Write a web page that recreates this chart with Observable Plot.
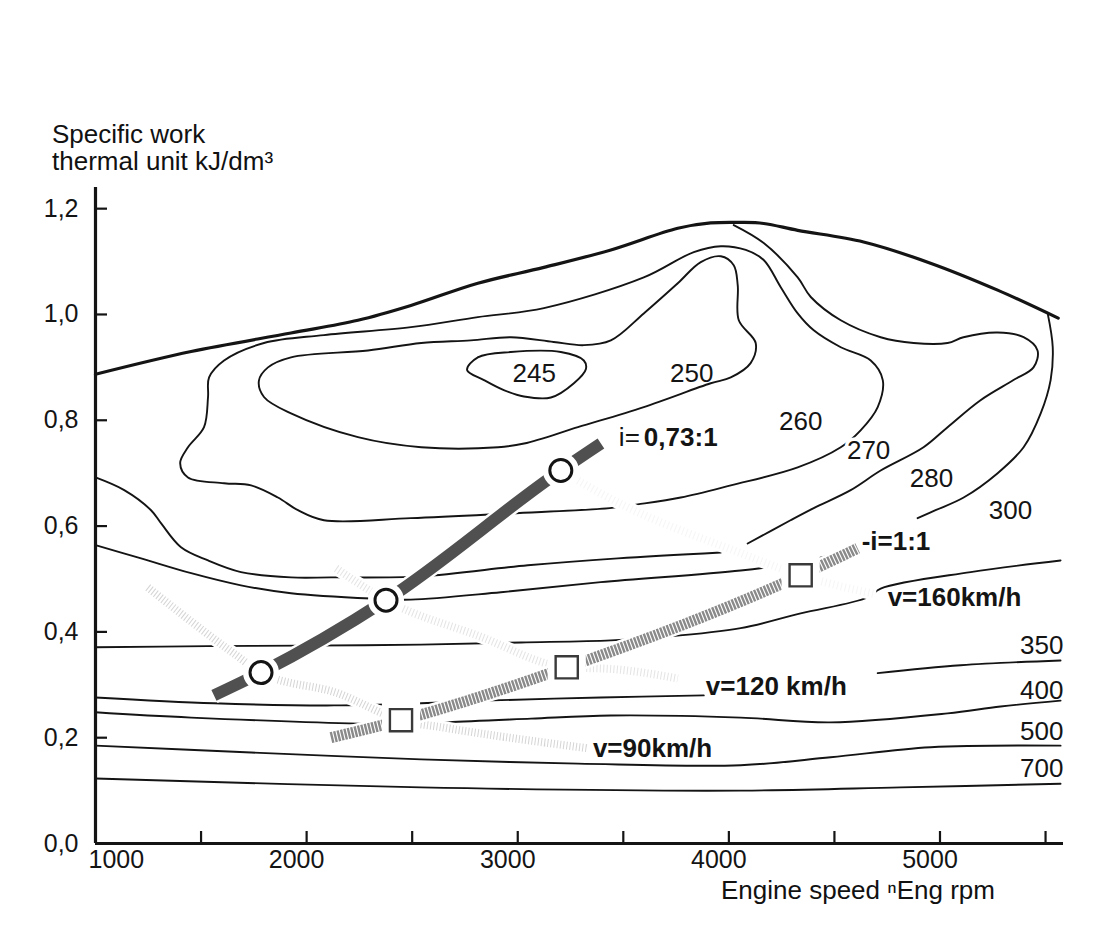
<!DOCTYPE html>
<html><head><meta charset="utf-8">
<script src="https://cdn.jsdelivr.net/npm/d3@7"></script>
<script src="https://cdn.jsdelivr.net/npm/@observablehq/plot@0.6"></script>
<style>
html,body{margin:0;padding:0;background:#fff;}
#wrap{position:relative;width:1105px;height:935px;font-family:"Liberation Sans",Arial,Helvetica,sans-serif;color:#111;}
#wrap svg{position:absolute;left:0;top:0;}
.ytitle{position:absolute;left:52px;top:121px;font-size:26px;line-height:27px;white-space:nowrap;}
.xtitle{position:absolute;left:721px;top:877px;font-size:26px;line-height:26px;white-space:nowrap;}
</style></head><body>
<div id="wrap">
<div class="ytitle">Specific work<br>thermal unit kJ/dm³</div>
<div class="xtitle">Engine speed ⁿEng rpm</div>
</div>
<script>
// ---- axes ----
const xTicks = [1500, 2000, 2500, 3000, 3500, 4000, 4500, 5000, 5500];
const xTickLabels = [2000, 3000, 4000, 5000];
const xFirstLabel = [1000];
const yTicks = [0.2, 0.4, 0.6, 0.8, 1.0, 1.2];
const yTickLabels = [0, 0.2, 0.4, 0.6, 0.8, 1.0, 1.2];

// ---- full load curve [rpm, kJ/dm3] ----
const fullLoad = [[1000,0.887],[1453,0.930],[1926,0.965],[2243,0.989],[2494,1.017],[2811,1.059],[3124,1.089],[3441,1.122],[3758,1.163],[3914,1.173],[4056,1.174],[4165,1.172],[4326,1.159],[4638,1.137],[4955,1.097],[5273,1.046],[5560,0.993]];

// ---- BSFC contours [rpm, kJ/dm3] (null = break) ----
const c245 = [[2760,0.895],[2811,0.919],[2967,0.929],[3204,0.929],[3313,0.913],[3323,0.897],[3266,0.870],[3157,0.843],[3029,0.845],[2934,0.857],[2840,0.876]];
const c250 = [[1926,0.919],[2291,0.932],[2543,0.946],[2778,0.951],[2967,0.957],[3170,0.948],[3313,0.942],[3441,0.951],[3597,1.002],[3758,1.059],[3867,1.099],[3962,1.110],[4023,1.093],[4042,1.055],[4047,0.989],[4127,0.946],[4103,0.908],[4009,0.881],[3914,0.870],[3597,0.825],[3285,0.787],[3030,0.756],[2907,0.749],[2543,0.749],[2243,0.768],[1926,0.813],[1798,0.844],[1774,0.875],[1817,0.900]];
const c260 = [[2494,0.976],[2811,0.995],[3124,1.012],[3597,1.070],[3834,1.118],[3962,1.129],[4080,1.122],[4165,1.103],[4245,1.052],[4326,1.002],[4402,0.970],[4530,0.938],[4672,0.913],[4729,0.876],[4705,0.825],[4624,0.781],[4530,0.749],[4326,0.711],[4009,0.677],[3772,0.654],[3568,0.641],[3436,0.634],[2967,0.624],[2494,0.615],[2082,0.611],[1959,0.630],[1864,0.654],[1737,0.677],[1609,0.681],[1438,0.692],[1401,0.719],[1438,0.749],[1514,0.787],[1533,0.844],[1538,0.881],[1609,0.913],[1798,0.946],[2082,0.961]];
const c270 = [[1000,0.692],[1136,0.668],[1263,0.630],[1311,0.605],[1405,0.560],[1533,0.535],[1689,0.513],[1926,0.503],[2115,0.503],[2541,0.505],[3048,0.526],[3474,0.539],[3962,0.550],[null,null],[4089,0.567],[4292,0.611],[4402,0.634],[4577,0.668],[4719,0.705],[4922,0.749],[5036,0.787],[5192,0.838],[5348,0.876],[5443,0.900],[5462,0.932],[5396,0.957],[5273,0.966],[5111,0.957],[5036,0.946],[4875,0.946],[4719,0.957],[4530,0.989],[4388,1.033],[4326,1.070],[4165,1.135],[4023,1.169]];
const c280 = [[1000,0.564],[1216,0.539],[1453,0.511],[1689,0.488],[1926,0.473],[2305,0.463],[2494,0.461],[2920,0.475],[3393,0.494],[4056,0.516],[4326,0.531],[4482,0.545],[null,null],[4894,0.615],[4979,0.630],[5112,0.654],[5273,0.700],[5396,0.749],[5477,0.813],[5524,0.876],[5534,0.938],[5510,1.002]];
const c300 = [[1000,0.371],[1533,0.373],[1974,0.374],[2542,0.376],[3015,0.380],[3441,0.384],[3678,0.390],[4056,0.407],[4340,0.435],[4657,0.465],[4719,0.482],[5145,0.513],[5571,0.535]];
const c350 = [[1000,0.276],[1561,0.265],[2129,0.261],[2542,0.265],[2840,0.270],[3393,0.276],[3881,0.280],[null,null],[4705,0.322],[5098,0.337],[5571,0.346]];
const c400 = [[1000,0.248],[1453,0.238],[2542,0.225],[2670,0.229],[3063,0.236],[3441,0.242],[4056,0.238],[4482,0.229],[5036,0.246],[5287,0.259],[5571,0.270]];
const c500 = [[1000,0.185],[1737,0.172],[2542,0.159],[3285,0.151],[4056,0.148],[4482,0.163],[4956,0.182],[5571,0.185]];
const c700 = [[1000,0.123],[2542,0.106],[4056,0.100],[4813,0.106],[5571,0.113]];

// ---- gear lines and operating points ----
const gear073 = [[1561,0.280],[1784,0.323],[2376,0.460],[3204,0.705],[3394,0.756]];
const gear073Points = [[1784,0.323],[2376,0.460],[3204,0.705]];
const gear11 = [[2115,0.200],[2447,0.233],[3232,0.333],[4340,0.507],[4610,0.558]];
const gear11Points = [[2447,0.233],[3232,0.333],[4340,0.507]];

// ---- constant vehicle speed lines ----
const v90 = [[1248,0.484],[1656,0.359],[1784,0.323],[2148,0.284],[2447,0.233],[2650,0.219],[3331,0.180]];
const v120 = [[2140,0.520],[2376,0.460],[2811,0.393],[3232,0.333],[3441,0.330],[3758,0.312]];
const v160 = [[3204,0.705],[3502,0.639],[4023,0.554],[4340,0.507],[4695,0.471]];

// ---- labels ----
const contourLabels = [["245",3078,0.889],["250",3824,0.889],["260",4340,0.798],["280",4960,0.690],["300",5334,0.630]];
const contourLabelsOnLine = [["270",4662,0.743]];
const edgeLabels = [["350",0.373],["400",0.289],["500",0.212],["700",0.142]];
const gearLabelLow = [["i=","0,73:1",3479,0.768]];
const gearLabelHigh = [["-i=1:1",4629,0.571]];
const speedLabelsOnLine = [["v=160km/h",4752,0.465],["v=120 km/h",3891,0.297]];
const speedLabelsFree = [["v=90km/h",3356,0.180]];

// ---- drawing ----
const W = 1105, H = 935, mL = 95, mR = 42, mT = 187, mB = 92;
const frameW = W - mL - mR, frameH = H - mT - mB;
const pt = {x: d => d[0], y: d => d[1]};
const ink = "#141414";
const contour = (data, closed) => Plot.line(data, {...pt, stroke: ink, strokeWidth: 1.9, curve: closed ? "catmull-rom-closed" : "catmull-rom"});
const band = (data, color, width, extra = {}) => [
  Plot.line(data, {...pt, stroke: "white", strokeWidth: width + 5, strokeLinecap: "butt", curve: "monotone-x"}),
  Plot.line(data, {...pt, stroke: color, strokeWidth: width, strokeLinecap: "butt", curve: "monotone-x", ...extra})
];
const lbl = (data, o) => Plot.text(data, {x: d => d[1], y: d => d[2], text: d => d[0], fill: ink, ...o});

const chart = Plot.plot({
  width: W, height: H,
  marginLeft: mL, marginRight: mR, marginTop: mT, marginBottom: mB,
  x: {domain: [1000, 5585], axis: null},
  y: {domain: [0, 1.24], axis: null},
  style: {fontFamily: '"Liberation Sans", Arial, Helvetica, sans-serif', fontSize: "25px", color: ink, background: "white", overflow: "visible"},
  marks: [
    contour(c245, true),
    contour(c250, true),
    contour(c260, true),
    contour(c270), contour(c280), contour(c300), contour(c350),
    contour(c400), contour(c500), contour(c700),
    Plot.line(fullLoad, {...pt, stroke: ink, strokeWidth: 3.2, curve: "catmull-rom"}),
    band(v90, "#b8b8b8", 8, {strokeDasharray: "1 2.2", strokeOpacity: 0.6}),
    band(v120, "#c0c0c0", 8, {strokeDasharray: "1 2.4", strokeOpacity: 0.45}),
    band(v160, "#dddddd", 8, {strokeDasharray: "1 3", strokeOpacity: 0.3}),
    band(gear11, "#8a8a8a", 11, {strokeDasharray: "2.4 1.1"}),
    band(gear073, "#505050", 12),
    Plot.dot(gear11Points, {...pt, symbol: "square", r: 12.5, fill: "white", stroke: "white", strokeWidth: 16}),
    Plot.dot(gear11Points, {...pt, symbol: "square", r: 12.5, fill: "white", stroke: "#3a3a3a", strokeWidth: 2.4}),
    Plot.dot(gear073Points, {...pt, r: 11, fill: "white", stroke: "white", strokeWidth: 14}),
    Plot.dot(gear073Points, {...pt, r: 11, fill: "white", stroke: ink, strokeWidth: 3}),
    lbl(contourLabels, {fontSize: 26}),
    lbl(contourLabelsOnLine, {fontSize: 26, stroke: "white", strokeWidth: 7, paintOrder: "stroke"}),
    Plot.text(edgeLabels, {frameAnchor: "right", y: d => d[1], text: d => d[0], textAnchor: "end", fontSize: 26, fill: ink}),
    Plot.text(gearLabelLow, {x: d => d[2], y: d => d[3], text: d => d[0], textAnchor: "start", fontSize: 26, fill: ink}),
    Plot.text(gearLabelLow, {x: d => d[2], y: d => d[3], text: d => d[1], textAnchor: "start", dx: 25, fontSize: 26, fontWeight: "bold", fill: ink}),
    lbl(gearLabelHigh, {textAnchor: "start", fontSize: 26, fontWeight: "bold", stroke: "white", strokeWidth: 6, paintOrder: "stroke"}),
    lbl(speedLabelsOnLine, {textAnchor: "start", fontSize: 26, fontWeight: "bold", stroke: "white", strokeWidth: 7, paintOrder: "stroke"}),
    lbl(speedLabelsFree, {textAnchor: "start", fontSize: 26, fontWeight: "bold"}),
    // axes
    Plot.ruleX(xTicks, {x: d => d, insetTop: frameH - 12, stroke: ink, strokeWidth: 2.2}),
    Plot.ruleY(yTicks, {y: d => d, insetRight: frameW - 12, stroke: ink, strokeWidth: 2.2}),
    Plot.ruleX([1000], {stroke: ink, strokeWidth: 3.2}),
    Plot.ruleY([0], {stroke: ink, strokeWidth: 3.2}),
    Plot.text(yTickLabels, {frameAnchor: "left", y: d => d, text: d => d.toFixed(1).replace(".", ","), textAnchor: "end", dx: -17, fontSize: 25, fill: ink}),
    Plot.text(xTickLabels, {frameAnchor: "bottom", x: d => d, text: d => String(d), lineAnchor: "top", dy: 7, dx: -10, fontSize: 25, fill: ink}),
    Plot.text(xFirstLabel, {frameAnchor: "bottom", x: d => d, text: d => String(d), textAnchor: "start", lineAnchor: "top", dy: 7, dx: -7, fontSize: 25, fill: ink})
  ]
});
document.getElementById("wrap").prepend(chart);
</script>
</body></html>
